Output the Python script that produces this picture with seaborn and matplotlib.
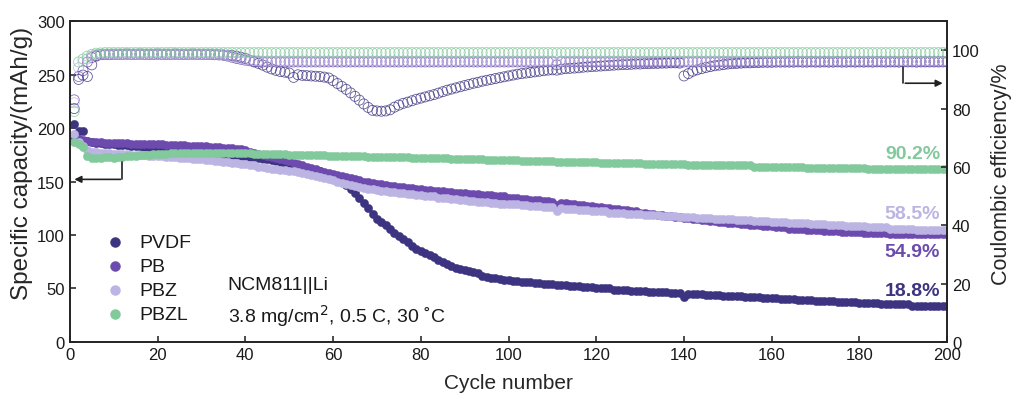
import numpy as np
import matplotlib
matplotlib.use("Agg")
import matplotlib.pyplot as plt
import seaborn as sns

# cycle index
cycles = np.arange(1, 201)

# specific capacity (mAh/g), read per cycle
pvdf_cap = [
    204, 197, 197, 188, 187, 186, 186, 185, 185, 185, 184, 184, 184, 183, 183, 183, 182, 182, 182, 182,
    181, 181, 181, 180, 180, 180, 179, 179, 179, 178, 178, 178, 177, 177, 176, 176, 175, 175, 174, 174,
    173, 173, 172, 171, 171, 170, 169, 168, 167, 166, 161, 165, 164, 163, 162, 161, 160, 158, 156, 154,
    152, 150, 147, 143, 139, 135, 130, 125, 120, 115, 112, 109, 106, 102, 99, 96, 93, 90, 87, 85,
    83, 81, 79, 77, 75, 73, 71, 69, 68, 67, 66, 65, 64, 62, 61, 60, 60, 59, 58, 58,
    57, 57, 56, 56, 56, 55, 55, 54, 54, 54, 53, 53, 53, 52, 52, 52, 51, 51, 51, 50,
    50, 50, 50, 49, 49, 49, 49, 48, 48, 48, 48, 47, 47, 47, 47, 47, 46, 46, 46, 42,
    45, 45, 45, 45, 44, 44, 44, 44, 43, 43, 43, 43, 43, 42, 42, 42, 42, 41, 41, 41,
    41, 40, 40, 40, 40, 39, 39, 39, 39, 38, 38, 38, 38, 38, 37, 37, 37, 37, 37, 36,
    36, 36, 36, 36, 35, 35, 35, 35, 35, 35, 35, 34, 34, 34, 34, 34, 34, 34, 34, 34,
]
pb_cap = [
    191, 190, 189, 188, 187, 187, 187, 186, 186, 186, 186, 186, 186, 185, 185, 185, 185, 185, 185, 185,
    185, 184, 184, 184, 184, 184, 183, 183, 183, 183, 183, 182, 182, 182, 181, 181, 181, 180, 180, 179,
    178, 177, 176, 175, 174, 173, 172, 171, 170, 169, 167, 166, 165, 164, 163, 162, 160, 159, 158, 157,
    156, 155, 154, 153, 152, 151, 150, 150, 149, 148, 148, 147, 146, 146, 145, 145, 144, 144, 143, 143,
    142, 142, 141, 141, 141, 140, 140, 139, 139, 139, 138, 138, 138, 137, 137, 137, 136, 136, 136, 135,
    135, 135, 134, 134, 133, 133, 133, 132, 132, 131, 128, 130, 130, 129, 129, 128, 128, 127, 127, 126,
    126, 125, 125, 124, 124, 123, 123, 122, 122, 121, 121, 120, 120, 119, 119, 118, 118, 117, 117, 116,
    116, 115, 115, 114, 114, 113, 113, 112, 112, 111, 111, 111, 110, 110, 109, 109, 109, 108, 108, 108,
    107, 107, 107, 106, 106, 106, 106, 105, 105, 105, 105, 104, 104, 104, 104, 103, 103, 103, 103, 103,
    102, 102, 102, 102, 102, 102, 101, 101, 101, 101, 101, 101, 101, 101, 101, 101, 101, 101, 101, 101,
]
pbz_cap = [
    194, 187, 183, 179, 178, 178, 177, 177, 177, 176, 176, 176, 176, 175, 175, 175, 175, 174, 174, 174,
    174, 173, 173, 173, 172, 172, 172, 171, 171, 171, 170, 170, 169, 169, 168, 168, 167, 167, 166, 166,
    165, 165, 164, 164, 163, 162, 162, 161, 161, 160, 160, 159, 158, 157, 156, 155, 154, 153, 152, 151,
    150, 149, 148, 147, 146, 145, 144, 143, 143, 142, 141, 141, 140, 140, 139, 139, 138, 138, 137, 137,
    136, 136, 136, 135, 135, 135, 134, 134, 133, 133, 132, 132, 131, 131, 131, 130, 130, 129, 129, 129,
    129, 129, 128, 128, 127, 127, 127, 126, 126, 126, 122, 125, 124, 124, 124, 123, 123, 123, 122, 122,
    122, 122, 121, 121, 121, 121, 120, 120, 120, 120, 119, 119, 119, 119, 118, 118, 118, 118, 117, 117,
    117, 117, 116, 116, 116, 116, 115, 115, 115, 115, 115, 114, 114, 114, 114, 113, 113, 113, 113, 112,
    112, 112, 112, 111, 111, 111, 111, 111, 110, 110, 110, 110, 109, 109, 109, 109, 108, 108, 108, 108,
    108, 107, 107, 107, 107, 107, 106, 106, 106, 106, 106, 106, 105, 105, 105, 105, 105, 105, 105, 105,
]
pbzl_cap = [
    187, 185, 182, 174, 172, 172, 172, 173, 173, 172, 173, 173, 174, 174, 174, 175, 175, 175, 176, 176,
    176, 176, 177, 177, 177, 177, 177, 177, 177, 177, 177, 177, 177, 177, 177, 177, 177, 177, 177, 177,
    177, 176, 176, 176, 176, 176, 176, 176, 176, 175, 175, 175, 175, 175, 175, 175, 175, 175, 174, 174,
    174, 174, 174, 174, 174, 174, 174, 173, 173, 173, 173, 173, 173, 173, 173, 173, 173, 172, 172, 172,
    172, 172, 172, 172, 172, 172, 171, 171, 171, 171, 171, 171, 171, 171, 170, 170, 170, 170, 170, 170,
    170, 170, 169, 169, 169, 169, 169, 169, 169, 169, 168, 168, 168, 168, 168, 168, 168, 168, 168, 168,
    167, 167, 167, 167, 167, 167, 167, 167, 167, 167, 166, 166, 166, 166, 166, 166, 166, 166, 166, 166,
    165, 165, 165, 165, 165, 165, 165, 165, 165, 165, 165, 165, 165, 165, 165, 164, 164, 164, 164, 164,
    164, 164, 164, 164, 164, 164, 164, 163, 163, 163, 163, 163, 163, 163, 163, 163, 163, 163, 163, 163,
    163, 162, 162, 162, 162, 162, 162, 162, 162, 162, 162, 162, 162, 162, 162, 162, 162, 162, 162, 162,
]

# coulombic efficiency (%), read per cycle
pvdf_ce = [
    80.0, 90.0, 91.5, 91.0, 95.0, 98.0, 98.5, 98.5, 98.5, 98.6, 98.6, 98.6, 98.7, 98.6, 98.6, 98.7, 98.6, 98.6, 98.6, 98.7,
    98.6, 98.6, 98.6, 98.7, 98.6, 98.6, 98.6, 98.7, 98.6, 98.6, 98.6, 98.6, 98.5, 98.5, 98.4, 98.3, 98.2, 98.0, 97.6, 97.2,
    96.6, 96.0, 95.5, 94.9, 94.2, 93.6, 93.1, 92.7, 92.5, 92.2, 90.7, 91.6, 91.4, 91.3, 91.2, 91.1, 91.0, 90.8, 90.5, 89.6,
    88.6, 87.6, 86.6, 85.4, 84.2, 82.9, 81.6, 80.4, 79.4, 79.2, 79.1, 79.2, 79.6, 80.5, 81.2, 81.8, 82.2, 82.7, 83.2, 83.6,
    84.0, 84.4, 84.8, 85.3, 85.8, 86.3, 86.7, 87.1, 87.5, 87.9, 88.3, 88.7, 89.0, 89.4, 89.7, 90.0, 90.3, 90.6, 90.9, 91.2,
    91.5, 91.8, 92.0, 92.2, 92.4, 92.6, 92.8, 93.0, 93.2, 93.3, 93.2, 93.5, 93.7, 93.8, 93.9, 94.0, 94.2, 94.3, 94.4, 94.5,
    94.6, 94.7, 94.8, 94.9, 95.0, 95.1, 95.1, 95.2, 95.3, 95.3, 95.4, 95.4, 95.5, 95.5, 95.6, 95.6, 95.7, 95.7, 95.6, 91.2,
    92.0, 92.8, 93.3, 93.7, 94.1, 94.4, 94.7, 94.9, 95.1, 95.3, 95.4, 95.5, 95.6, 95.7, 95.7, 95.8, 95.8, 95.9, 95.9, 95.9,
    96.0, 96.0, 96.0, 96.0, 96.0, 96.1, 96.0, 96.0, 96.1, 96.0, 96.0, 96.1, 96.0, 96.0, 96.1, 96.0, 96.0, 96.1, 96.0, 96.1,
    96.0, 96.1, 96.0, 96.1, 96.1, 96.0, 96.1, 96.1, 96.0, 96.1, 96.1, 96.1, 96.0, 96.1, 96.1, 96.1, 96.1, 96.1, 96.1, 96.1,
]
pb_ce = [
    83.0, 91.0, 93.0, 96.0, 97.5, 98.2, 98.5, 98.6, 98.6, 98.6, 98.6, 98.6, 98.6, 98.6, 98.6, 98.6, 98.6, 98.6, 98.6, 98.6,
    98.6, 98.6, 98.6, 98.6, 98.6, 98.6, 98.6, 98.6, 98.6, 98.6, 98.6, 98.6, 98.5, 98.4, 98.3, 98.0, 97.6, 97.2, 96.9, 96.6,
    96.4, 96.2, 96.1, 96.0, 96.0, 96.0, 96.0, 96.0, 96.0, 96.0, 96.0, 96.0, 96.0, 96.0, 96.0, 96.0, 96.0, 96.0, 96.0, 96.0,
    96.0, 96.0, 96.0, 96.0, 96.0, 96.0, 96.0, 96.0, 96.0, 96.0, 96.0, 96.0, 96.0, 96.0, 96.0, 96.0, 96.0, 96.0, 96.0, 96.0,
    96.0, 96.0, 96.0, 96.0, 96.0, 96.0, 96.0, 96.0, 96.0, 96.0, 96.0, 96.0, 96.0, 96.0, 96.0, 96.0, 96.0, 96.0, 96.0, 96.0,
    96.0, 96.0, 96.0, 96.0, 96.0, 96.0, 96.0, 96.0, 96.0, 96.0, 95.0, 96.0, 96.0, 96.0, 96.0, 96.0, 96.0, 96.0, 96.0, 96.0,
    96.0, 96.0, 96.0, 96.0, 96.0, 96.0, 96.0, 96.0, 96.0, 96.0, 96.0, 96.0, 96.0, 96.0, 96.0, 96.0, 96.0, 96.0, 96.0, 96.0,
    96.0, 96.0, 96.0, 96.0, 96.0, 96.0, 96.0, 96.0, 96.0, 96.0, 96.0, 96.0, 96.0, 96.0, 96.0, 96.0, 96.0, 96.0, 96.0, 96.0,
    96.0, 96.0, 96.0, 96.0, 96.0, 96.0, 96.0, 96.0, 96.0, 96.0, 96.0, 96.0, 96.0, 96.0, 96.0, 96.0, 96.0, 96.0, 96.0, 96.0,
    96.0, 96.0, 96.0, 96.0, 96.0, 96.0, 96.0, 96.0, 96.0, 96.0, 96.0, 96.0, 96.0, 96.0, 96.0, 96.0, 96.0, 96.0, 96.0, 96.0,
]
pbz_ce = [
    82.0, 94.0, 96.0, 97.0, 98.0, 98.5, 98.6, 98.6, 98.6, 98.6, 98.6, 98.6, 98.6, 98.6, 98.6, 98.6, 98.6, 98.6, 98.6, 98.6,
    98.6, 98.6, 98.6, 98.6, 98.6, 98.6, 98.6, 98.6, 98.6, 98.6, 98.6, 98.6, 98.6, 98.5, 98.4, 98.2, 97.9, 97.5, 97.1, 96.8,
    96.6, 96.5, 96.4, 96.3, 96.3, 96.3, 96.3, 96.3, 96.3, 96.3, 96.3, 96.3, 96.3, 96.3, 96.3, 96.3, 96.3, 96.3, 96.3, 96.3,
    96.3, 96.3, 96.3, 96.3, 96.3, 96.3, 96.3, 96.3, 96.3, 96.3, 96.3, 96.3, 96.3, 96.3, 96.3, 96.3, 96.3, 96.3, 96.3, 96.3,
    96.3, 96.3, 96.3, 96.3, 96.3, 96.3, 96.3, 96.3, 96.3, 96.3, 96.3, 96.3, 96.3, 96.3, 96.3, 96.3, 96.3, 96.3, 96.3, 96.3,
    96.3, 96.3, 96.3, 96.3, 96.3, 96.3, 96.3, 96.3, 96.3, 96.3, 95.5, 96.3, 96.3, 96.3, 96.3, 96.3, 96.3, 96.3, 96.3, 96.3,
    96.3, 96.3, 96.3, 96.3, 96.3, 96.3, 96.3, 96.3, 96.3, 96.3, 96.3, 96.3, 96.3, 96.3, 96.3, 96.3, 96.3, 96.3, 96.3, 96.3,
    96.3, 96.3, 96.3, 96.3, 96.3, 96.3, 96.3, 96.3, 96.3, 96.3, 96.3, 96.3, 96.3, 96.3, 96.3, 96.3, 96.3, 96.3, 96.3, 96.3,
    96.3, 96.3, 96.3, 96.3, 96.3, 96.3, 96.3, 96.3, 96.3, 96.3, 96.3, 96.3, 96.3, 96.3, 96.3, 96.3, 96.3, 96.3, 96.3, 96.3,
    96.3, 96.3, 96.3, 96.3, 96.3, 96.3, 96.3, 96.3, 96.3, 96.3, 96.3, 96.3, 96.3, 96.3, 96.3, 96.3, 96.3, 96.3, 96.3, 96.3,
]
pbzl_ce = [
    79.0, 96.0, 97.0, 98.0, 98.6, 99.0, 99.1, 99.2, 99.2, 99.2, 99.2, 99.2, 99.2, 99.2, 99.2, 99.2, 99.2, 99.2, 99.2, 99.2,
    99.2, 99.2, 99.3, 99.2, 99.2, 99.2, 99.2, 99.2, 99.2, 99.2, 99.2, 99.2, 99.2, 99.2, 99.2, 99.2, 99.2, 99.2, 99.2, 99.2,
    99.2, 99.2, 99.2, 99.2, 99.2, 99.2, 99.2, 99.2, 99.2, 99.2, 99.2, 99.2, 99.2, 99.2, 99.2, 99.2, 99.2, 99.2, 99.2, 99.2,
    99.2, 99.2, 99.2, 99.2, 99.2, 99.2, 99.2, 99.2, 99.2, 99.2, 99.2, 99.2, 99.2, 99.2, 99.2, 99.2, 99.2, 99.2, 99.2, 99.2,
    99.2, 99.2, 99.2, 99.2, 99.2, 99.2, 99.2, 99.2, 99.2, 99.2, 99.2, 99.2, 99.2, 99.2, 99.2, 99.2, 99.2, 99.2, 99.2, 99.2,
    99.2, 99.2, 99.2, 99.2, 99.2, 99.2, 99.2, 99.2, 99.2, 99.2, 99.2, 99.2, 99.2, 99.2, 99.2, 99.2, 99.2, 99.2, 99.2, 99.2,
    99.2, 99.2, 99.2, 99.2, 99.2, 99.2, 99.2, 99.2, 99.2, 99.2, 99.2, 99.2, 99.2, 99.2, 99.2, 99.2, 99.2, 99.2, 99.2, 99.2,
    99.2, 99.2, 99.2, 99.2, 99.2, 99.2, 99.2, 99.2, 99.2, 99.2, 99.2, 99.2, 99.2, 99.2, 99.2, 99.2, 99.2, 99.2, 99.2, 99.2,
    99.2, 99.2, 99.2, 99.2, 99.2, 99.2, 99.2, 99.2, 99.2, 99.2, 99.2, 99.2, 99.2, 99.2, 99.2, 99.2, 99.2, 99.2, 99.2, 99.2,
    99.2, 99.2, 99.2, 99.2, 99.2, 99.2, 99.2, 99.2, 99.2, 99.2, 99.2, 99.2, 99.2, 99.2, 99.2, 99.2, 99.2, 99.2, 99.2, 99.2,
]

names = ['PVDF', 'PB', 'PBZ', 'PBZL']
colors = ['#3d3481', '#6c4aae', '#bcb5e3', '#82c99c']
retention = ['18.8%', '54.9%', '58.5%', '90.2%']
retention_y = [48, 85, 120, 176]

sns.set_style('ticks')
plt.rcParams['font.family'] = ['Liberation Sans', 'DejaVu Sans']
plt.rcParams['xtick.direction'] = 'in'
plt.rcParams['ytick.direction'] = 'in'
plt.rcParams['text.color'] = '#1a1a1a'

fig, ax = plt.subplots(figsize=(10.12, 4.02), dpi=100)
fig.subplots_adjust(left=0.069, right=0.936, bottom=0.147, top=0.945)
ax2 = ax.twinx()

caps = [pvdf_cap, pb_cap, pbz_cap, pbzl_cap]
ces = [pvdf_ce, pb_ce, pbz_ce, pbzl_ce]

for name, c, cap, ce in zip(names, colors, caps, ces):
    sns.scatterplot(x=cycles, y=cap, color=c, edgecolor=c, linewidth=0.3,
                    s=36, label=name, ax=ax, legend=False)
    sns.scatterplot(x=cycles, y=ce, color=c, facecolors='none', edgecolor=c,
                    linewidth=0.6, s=52, alpha=0.8, ax=ax2, legend=False)

ax.set_xlim(0, 200)
ax.set_ylim(0, 300)
ax2.set_ylim(0, 110)
ax.set_xticks(range(0, 201, 20))
ax.set_yticks(range(0, 301, 50))
ax2.set_yticks(range(0, 101, 20))

for a in (ax, ax2):
    a.tick_params(labelsize=12, length=4, width=1.1, colors='#1a1a1a')
    for sp in a.spines.values():
        sp.set_linewidth(1.2)
        sp.set_color('#222222')

ax.set_xlabel('Cycle number', fontsize=15, labelpad=8)
ax.set_ylabel('Specific capacity/(mAh/g)', fontsize=17.5)
ax.yaxis.set_label_coords(-0.042, 0.56)
ax2.set_ylabel('Coulombic efficiency/%', fontsize=15.5)
ax2.yaxis.set_label_coords(1.05, 0.525)

# legend
handles, labels = ax.get_legend_handles_labels()
ax.legend(handles, labels, loc='upper left', bbox_to_anchor=(0.031, 0.362),
          frameon=False, fontsize=14, markerscale=1.2, handlelength=1.0,
          handletextpad=0.79, labelspacing=0.33, borderaxespad=0)

# condition text
ax.text(36, 54, 'NCM811||Li', fontsize=14, va='center', ha='left')
ax.text(36, 25, '3.8 mg/cm$^{2}$, 0.5 C, 30 ˚C', fontsize=14, va='center', ha='left')

# retention labels
for txt, yy, c in zip(retention, retention_y, colors):
    ax.text(198.4, yy, txt, color=c, fontsize=14, fontweight='bold',
            ha='right', va='center')

# axis arrows
ax.plot([12, 12], [168, 152], color='#222222', lw=1.2)
ax.annotate('', xy=(0.4, 152), xytext=(12.2, 152),
            arrowprops=dict(arrowstyle='-|>', color='#222222', lw=1.2, mutation_scale=10))
ax2.plot([190, 190], [94.2, 88.7], color='#222222', lw=1.2)
ax2.annotate('', xy=(199.6, 88.7), xytext=(189.8, 88.7),
             arrowprops=dict(arrowstyle='-|>', color='#222222', lw=1.2, mutation_scale=10))

fig.savefig('out.png', dpi=100)
